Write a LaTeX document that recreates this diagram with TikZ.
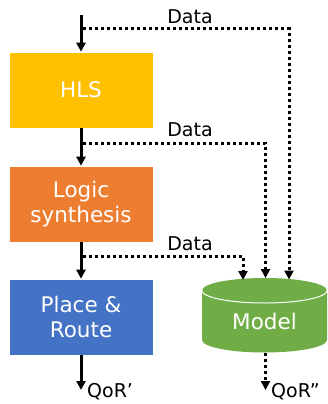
\documentclass[tikz,border=0pt]{standalone}
\usepackage{fontspec}
\setmainfont{DejaVu Sans}
\usetikzlibrary{arrows.meta}
\definecolor{hlsc}{HTML}{FFC000}
\definecolor{lsc}{HTML}{ED7D31}
\definecolor{prc}{HTML}{4472C4}
\definecolor{modelc}{HTML}{70AD47}
\begin{document}
\begin{tikzpicture}[x=1pt,y=-1pt,
  stage/.style={rectangle, minimum width=144pt, minimum height=76pt, inner sep=0pt,
    draw=white, line width=0.6pt, text=white, align=center,
    font=\fontsize{21.5}{25.5}\selectfont},
  flow/.style={line width=3pt, -{Triangle[length=9pt,width=9pt]}},
  datalink/.style={line width=3pt, dash pattern=on 3pt off 3pt, -{Triangle[length=9pt,width=9pt]}},
  lbl/.style={font=\fontsize{19}{22}\selectfont, inner sep=0pt}]
\useasboundingbox (0,0) rectangle (327,404);

% flow stages
\node[stage, fill=hlsc] (hls) at (81,90) {HLS};
\node[stage, fill=lsc] (ls) at (81,204) {Logic\\synthesis};
\node[stage, fill=prc] (pr) at (81,317) {Place \&\\Route};

% model database (cylinder)
\fill[modelc] (202,290.5) -- (202,340)
  arc[start angle=180, end angle=0, x radius=62.5, y radius=12.5]
  -- (327,290.5)
  arc[start angle=0, end angle=-180, x radius=62.5, y radius=12.5] -- cycle;
\draw[white, line width=1pt] (202,290.5)
  arc[start angle=180, end angle=0, x radius=62.5, y radius=12.5];
\node[text=white, font=\fontsize{21.5}{25}\selectfont, inner sep=0pt] (model) at (264.5,321) {Model};

% connection points
\coordinate (in) at (81,15);
\coordinate (b1) at (81,29);
\coordinate (b2) at (81,143);
\coordinate (b3) at (81,256);
\coordinate (m1) at (243,280);
\coordinate (m2) at (265.5,278);
\coordinate (m3) at (289,279.5);
\coordinate (q1) at (81,390);
\coordinate (mb) at (265.5,353);
\coordinate (q2) at (265.5,390);

% main flow
\draw[flow] (in) -- (hls);
\draw[flow] (hls) -- (ls);
\draw[flow] (ls) -- (pr);
\draw[flow] (pr) -- (q1);

% data taps to the model
\draw[datalink] ([xshift=2pt]b1) -| (m3);
\draw[datalink] ([xshift=2pt]b2) -| (m2);
\draw[datalink] ([xshift=2pt]b3) -| (m1);
\draw[datalink] (mb) -- (q2);

% labels
\node[lbl] (t1) at (190,17) {Data};
\node[lbl] (t2) at (190,129.5) {Data};
\node[lbl] (t3) at (190,243.5) {Data};
\node[lbl, anchor=west] (r1) at (87,392) {QoR’};
\node[lbl, anchor=west] (r2) at (271,392) {QoR”};
\end{tikzpicture}
\end{document}
